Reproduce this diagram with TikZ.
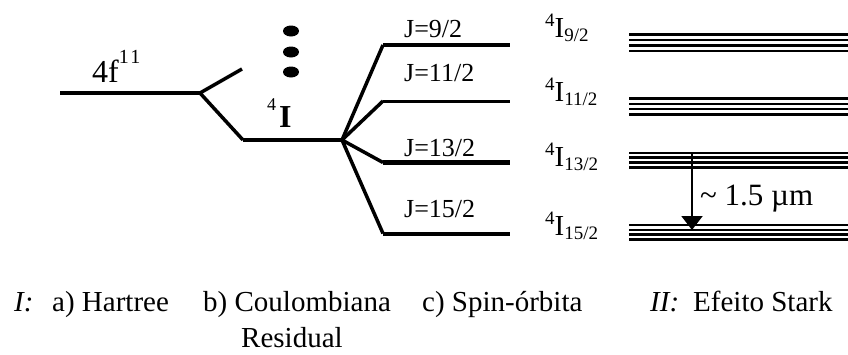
\documentclass[tikz,border=0pt]{standalone}
\usepackage{fontspec}
\setmainfont{Liberation Serif}
\usetikzlibrary{arrows.meta}
\newcommand{\termlab}[1]{\raisebox{11pt}{\fontsize{19}{19}\selectfont 4}I\raisebox{-4pt}{\fontsize{19}{19}\selectfont #1}}
\begin{document}
\begin{tikzpicture}[x=1pt,y=-1pt,
  lvl/.style={line width=4pt},
  fan/.style={line width=3.5pt},
  stark/.style={line width=2.1pt},
  jlab/.style={anchor=base west,inner sep=0pt,font=\fontsize{26}{28}\selectfont},
  tlab/.style={anchor=base west,inner sep=0pt,font=\fontsize{29}{31}\selectfont},
  captxt/.style={anchor=base west,inner sep=0pt,font=\fontsize{29}{32}\selectfont},
  dotfill/.style={fill=black,draw=none}
]
\path[use as bounding box] (0,0) rectangle (848,354);
% coordinates
\coordinate (h0) at (60,93);
\coordinate (h1) at (200,93);
\coordinate (up) at (242,69);
\coordinate (c0) at (243,140);
\coordinate (c1) at (342,140);
\coordinate (s9a) at (383,45);   \coordinate (s9b) at (510,45);
\coordinate (s11a) at (383,101); \coordinate (s11b) at (510,101);
\coordinate (s13a) at (383,162.5); \coordinate (s13b) at (510,162.5);
\coordinate (s15a) at (383,233.5); \coordinate (s15b) at (510,233.5);
% Hartree and Coulomb
\draw[lvl] (h0) -- (h1);
\draw[fan] (h1) -- (up);
\draw[fan] (h1) -- (c0);
\draw[lvl] (c0) -- (c1);
% dots
\fill[dotfill] (291,31) ellipse [x radius=8, y radius=5.5];
\fill[dotfill] (291,52) ellipse [x radius=8, y radius=5.5];
\fill[dotfill] (291,72) ellipse [x radius=8, y radius=5.5];
% spin-orbit fan
\draw[fan] (c1) -- (s9a);  \draw[lvl] (s9a) -- (s9b);
\draw[fan] (c1) -- (s11a); \draw[line width=3pt] (s11a) -- (s11b);
\draw[fan] (c1) -- (s13a); \draw[line width=5pt] (s13a) -- (s13b);
\draw[fan] (c1) -- (s15a); \draw[lvl] (s15a) -- (s15b);
% labels
\node[anchor=base west,inner sep=0pt,font=\fontsize{32}{34}\selectfont] (f11) at (92,82) {4f\raisebox{19pt}{\fontsize{20}{20}\selectfont 1\kern1.5pt1}};
\node[anchor=base west,inner sep=0pt,font=\fontsize{32}{34}\selectfont] (I4) at (267,127) {\raisebox{17pt}{\fontsize{18}{18}\selectfont 4}\kern3pt\textbf{I}};
\node[jlab] (j9) at (404,37) {J=9/2};
\node[jlab] (j11) at (404,81) {J=11/2};
\node[jlab] (j13) at (404,156) {J=13/2};
\node[jlab] (j15) at (404,217) {J=15/2};
\node[tlab] (t9) at (545,37) {\termlab{9/2}};
\node[tlab] (t11) at (545,101) {\termlab{11/2}};
\node[tlab] (t13) at (545,166) {\termlab{13/2}};
\node[tlab] (t15) at (545,235) {\termlab{15/2}};
% Stark levels
\foreach \y in {34.5,40,45.5,51, 98.5,104,109,114.5, 152.7,157.5,162.5,167.5, 225,229.7,234.5,239.5}
  \draw[stark] (629,\y) -- (848,\y);
% transition arrow
\coordinate (a0) at (692,152.7);
\coordinate (a1) at (692,230);
\draw[line width=2pt,-{Triangle[width=21pt,length=14pt]}] (a0) -- (a1);
\node[anchor=base west,inner sep=0pt,font=\fontsize{31}{33}\selectfont] (wl) at (700,205) {\textasciitilde{} 1.5 µm};
% bottom captions
\node[captxt] (cI) at (14,311) {\textit{I:}};
\node[captxt] (ca) at (52,311) {a) Hartree};
\node[captxt] (cb) at (203,311) {b) Coulombiana};
\node[captxt] (cb2) at (241,347) {Residual};
\node[captxt] (cc) at (422,311) {c) Spin-órbita};
\node[captxt] (cII) at (650,311) {\textit{II:}};
\node[captxt] (cs) at (693,311) {Efeito Stark};
\end{tikzpicture}
\end{document}
